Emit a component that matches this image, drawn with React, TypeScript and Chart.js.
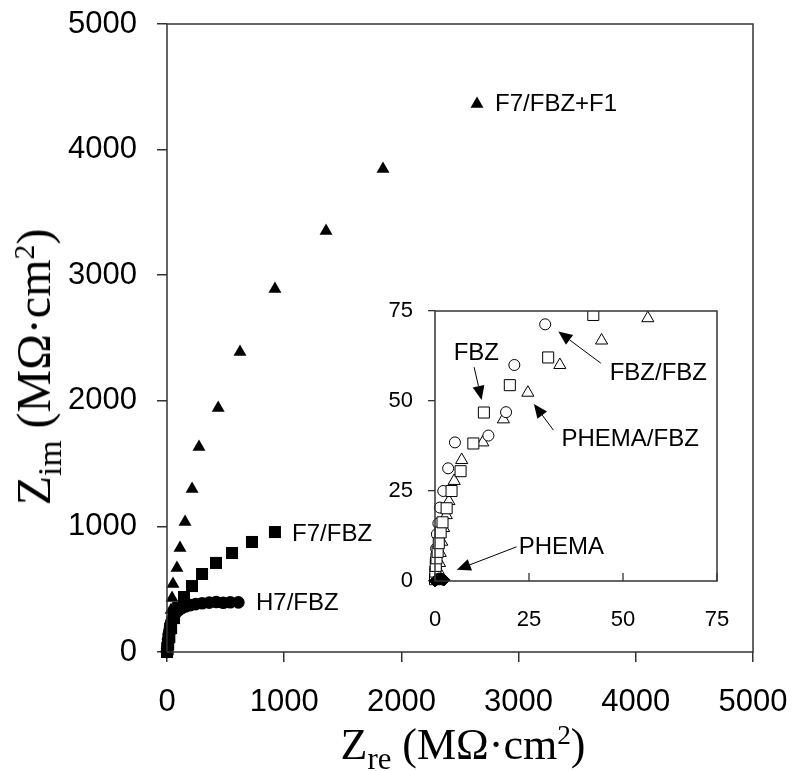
import React, { useEffect, useRef } from 'react';
import { Chart, registerables } from 'chart.js';

Chart.register(...registerables);

const SANS = '"Liberation Sans", Arial, Helvetica, sans-serif';
const SERIF = '"Liberation Serif", "Times New Roman", Times, serif';
const AXIS_COLOR = '#333333';

// ---------- Main chart data (Zre, Zim in MΩ·cm²) ----------
const MAIN_X_TICKS = [0, 1000, 2000, 3000, 4000, 5000];
const MAIN_Y_TICKS = [0, 1000, 2000, 3000, 4000, 5000];

const F7FBZF1_X = [2, 7, 13, 20, 28, 35, 43, 51, 85, 111, 154, 214, 273, 437, 623, 921, 1357, 1843, 2645];
const F7FBZF1_Y = [10, 45, 100, 170, 250, 334, 430, 541, 669, 828, 1035, 1298, 1633, 1942, 2388, 2890, 3352, 3845, 4363];

const F7FBZ_X = [0, 4, 10, 20, 35, 60, 95, 145, 213, 299, 418, 555, 725, 921];
const F7FBZ_Y = [0, 20, 60, 120, 190, 270, 350, 438, 525, 621, 709, 788, 876, 955];

const H7FBZ_X = [0, 2, 5, 9, 14, 20, 27, 35, 45, 58, 75, 97, 125, 160, 200, 245, 300, 360, 420, 480, 540, 609];
const H7FBZ_Y = [0, 30, 65, 100, 135, 170, 205, 235, 262, 288, 312, 332, 350, 363, 373, 381, 388, 393, 398, 392, 396, 395];

// labels in data coordinates (left aligned, vertically centred)
const MAIN_LABEL_TEXT = ['F7/FBZ+F1', 'F7/FBZ', 'H7/FBZ'];
const MAIN_LABEL_X = [2799, 1067, 759];
const MAIN_LABEL_Y = [4363, 940, 390];

// ---------- Inset data ----------
const INSET_TICKS = [0, 25, 50, 75];

const FBZFBZ_X = [0, 0.1, 0.2, 0.3, 0.5, 0.9, 1.3, 2.2, 3.5, 5.3, 14.2, 18.9, 21.1, 29.3];
const FBZFBZ_Y = [1, 3, 6, 9, 13, 16, 20.4, 25, 31.3, 38.5, 40.4, 46.9, 60, 71.3];

const FBZ_X = [0, 0.1, 0.2, 0.4, 0.7, 1, 1.5, 2, 3.1, 4.4, 6.8, 10.2, 13, 19.9, 30.1, 42.1];
const FBZ_Y = [0.5, 2.6, 4.2, 6.3, 8.1, 10.5, 13.5, 16.3, 20.2, 25, 30.5, 38.2, 46.8, 54.4, 62.1, 73.9];

const PHEMAFBZ_X = [0.5, 0.8, 1.2, 1.4, 1.8, 2.3, 3, 3.7, 5.1, 7.1, 12.7, 18.2, 24.7, 33.2, 44.3, 56.6];
const PHEMAFBZ_Y = [1, 3, 5, 7.8, 10.9, 14.7, 18.3, 22.2, 27.8, 33.6, 38.5, 44.9, 52.3, 60, 66.8, 73];

const PHEMA_X = [0, 0.3, 0.6, 0.9, 1.2, 1.5, 1.8, 2.1, 2.4];
const PHEMA_Y = [0, 0.3, 0.5, 0.6, 0.6, 0.6, 0.5, 0.4, 0.3];

// inset labels (centre of text, data coords)
const INSET_LABEL_TEXT = ['FBZ', 'FBZ/FBZ', 'PHEMA/FBZ', 'PHEMA'];
const INSET_LABEL_X = [11.0, 59.4, 51.9, 33.6];
const INSET_LABEL_Y = [63.3, 57.7, 39.4, 9.25];

// inset arrows: start -> tip (data coords)
const ARROW_X1 = [10.4, 44.1, 31.5, 21.7];
const ARROW_Y1 = [59.4, 60.5, 41.9, 9.5];
const ARROW_X2 = [12.4, 32.8, 26.3, 5.8];
const ARROW_Y2 = [50.3, 69.3, 49.2, 3.1];

const pts = (xs: number[], ys: number[]) => xs.map((x, i) => ({ x, y: ys[i] }));
const plain = (v: any) => String(v);

function boxPlugin(innerXTicks: number) {
  return {
    id: 'boxFrame',
    beforeDraw(chart: any) {
      const { ctx, chartArea: a } = chart;
      ctx.save();
      ctx.fillStyle = '#ffffff';
      ctx.fillRect(a.left, a.top, a.right - a.left, a.bottom - a.top);
      ctx.restore();
    },
    afterDraw(chart: any) {
      const { ctx, chartArea: a } = chart;
      ctx.save();
      ctx.strokeStyle = AXIS_COLOR;
      ctx.lineWidth = 1.5;
      ctx.strokeRect(a.left, a.top, a.right - a.left, a.bottom - a.top);
      if (innerXTicks > 0) {
        const xs = chart.scales.x;
        ctx.lineWidth = 1.3;
        ctx.beginPath();
        xs.ticks.forEach((t: any) => {
          const px = xs.getPixelForValue(t.value);
          ctx.moveTo(px, a.bottom);
          ctx.lineTo(px, a.bottom - innerXTicks);
        });
        ctx.stroke();
      }
      ctx.restore();
    },
  };
}

const mainLabelPlugin = {
  id: 'mainLabels',
  afterDatasetsDraw(chart: any) {
    const { ctx } = chart;
    const xs = chart.scales.x;
    const ys = chart.scales.y;
    ctx.save();
    ctx.fillStyle = '#000';
    ctx.font = `24px ${SANS}`;
    ctx.textAlign = 'left';
    ctx.textBaseline = 'middle';
    MAIN_LABEL_TEXT.forEach((t, i) => {
      ctx.fillText(t, xs.getPixelForValue(MAIN_LABEL_X[i]), ys.getPixelForValue(MAIN_LABEL_Y[i]));
    });
    ctx.restore();
  },
};

const insetLabelPlugin = {
  id: 'insetLabels',
  afterDatasetsDraw(chart: any) {
    const { ctx } = chart;
    const xs = chart.scales.x;
    const ys = chart.scales.y;
    ctx.save();
    ctx.fillStyle = '#000';
    ctx.strokeStyle = '#000';
    ctx.font = `24px ${SANS}`;
    ctx.textAlign = 'center';
    ctx.textBaseline = 'middle';
    INSET_LABEL_TEXT.forEach((t, i) => {
      ctx.fillText(t, xs.getPixelForValue(INSET_LABEL_X[i]), ys.getPixelForValue(INSET_LABEL_Y[i]));
    });
    const headLen = 14;
    const headHalf = 6;
    ctx.lineWidth = 1;
    ARROW_X1.forEach((_, i) => {
      const x1 = xs.getPixelForValue(ARROW_X1[i]);
      const y1 = ys.getPixelForValue(ARROW_Y1[i]);
      const x2 = xs.getPixelForValue(ARROW_X2[i]);
      const y2 = ys.getPixelForValue(ARROW_Y2[i]);
      const ang = Math.atan2(y2 - y1, x2 - x1);
      const bx = x2 - Math.cos(ang) * headLen;
      const by = y2 - Math.sin(ang) * headLen;
      ctx.beginPath();
      ctx.moveTo(x1, y1);
      ctx.lineTo(bx, by);
      ctx.stroke();
      ctx.beginPath();
      ctx.moveTo(x2, y2);
      ctx.lineTo(bx + Math.sin(ang) * headHalf, by - Math.cos(ang) * headHalf);
      ctx.lineTo(bx - Math.sin(ang) * headHalf, by + Math.cos(ang) * headHalf);
      ctx.closePath();
      ctx.fill();
    });
    ctx.restore();
  },
};

export default function App() {
  const mainRef = useRef<HTMLCanvasElement>(null);
  const insetRef = useRef<HTMLCanvasElement>(null);

  useEffect(() => {
    const main = new Chart(mainRef.current as HTMLCanvasElement, {
      type: 'scatter',
      data: {
        datasets: [
          {
            label: 'H7/FBZ',
            data: pts(H7FBZ_X, H7FBZ_Y),
            pointStyle: 'circle',
            pointRadius: 6.3,
            backgroundColor: '#000',
            borderColor: '#000',
            borderWidth: 0,
            clip: false,
          },
          {
            label: 'F7/FBZ',
            data: pts(F7FBZ_X, F7FBZ_Y),
            pointStyle: 'rect',
            pointRadius: 8.5,
            backgroundColor: '#000',
            borderColor: '#000',
            borderWidth: 0,
            clip: false,
          },
          {
            label: 'F7/FBZ+F1',
            data: pts(F7FBZF1_X, F7FBZF1_Y),
            pointStyle: 'triangle',
            pointRadius: 7.5,
            backgroundColor: '#000',
            borderColor: '#000',
            borderWidth: 0,
            clip: false,
          },
        ],
      } as any,
      options: {
        animation: false,
        responsive: false,
        maintainAspectRatio: false,
        layout: { padding: { left: 0, right: 40, top: 24, bottom: 0 } },
        plugins: { legend: { display: false }, tooltip: { enabled: false } },
        scales: {
          x: {
            type: 'linear',
            min: MAIN_X_TICKS[0],
            max: MAIN_X_TICKS[MAIN_X_TICKS.length - 1],
            afterBuildTicks: (s: any) => { s.ticks = MAIN_X_TICKS.map((v) => ({ value: v })); },
            ticks: { color: '#000', font: { family: SANS, size: 31 }, padding: 22, maxRotation: 0, callback: plain },
            grid: { drawOnChartArea: false, drawTicks: true, tickLength: 10, color: AXIS_COLOR, lineWidth: 1.5 },
            border: { display: false },
            afterFit: (s: any) => { s.height = 119; s.paddingLeft = 0; s.paddingRight = 0; },
          },
          y: {
            type: 'linear',
            min: MAIN_Y_TICKS[0],
            max: MAIN_Y_TICKS[MAIN_Y_TICKS.length - 1],
            afterBuildTicks: (s: any) => { s.ticks = MAIN_Y_TICKS.map((v) => ({ value: v })); },
            ticks: { color: '#000', font: { family: SANS, size: 31 }, padding: 20, callback: plain },
            grid: { drawOnChartArea: false, drawTicks: true, tickLength: 10, color: AXIS_COLOR, lineWidth: 1.5 },
            border: { display: false },
            afterFit: (s: any) => { s.width = 167; s.paddingTop = 0; s.paddingBottom = 0; },
          },
        },
      } as any,
      plugins: [boxPlugin(0), mainLabelPlugin],
    });

    const inset = new Chart(insetRef.current as HTMLCanvasElement, {
      type: 'scatter',
      data: {
        datasets: [
          {
            label: 'PHEMA',
            data: pts(PHEMA_X, PHEMA_Y),
            pointStyle: 'rectRot',
            pointRadius: 6,
            backgroundColor: '#000',
            borderColor: '#000',
            borderWidth: 1,
            clip: false,
          },
          {
            label: 'FBZ',
            data: pts(FBZ_X, FBZ_Y),
            pointStyle: 'rect',
            pointRadius: 7.8,
            backgroundColor: '#fff',
            borderColor: '#000',
            borderWidth: 1,
            clip: { left: false, bottom: false, right: false, top: 0 },
          },
          {
            label: 'FBZ/FBZ',
            data: pts(FBZFBZ_X, FBZFBZ_Y),
            pointStyle: 'circle',
            pointRadius: 5.5,
            backgroundColor: '#fff',
            borderColor: '#000',
            borderWidth: 1,
            clip: false,
          },
          {
            label: 'PHEMA/FBZ',
            data: pts(PHEMAFBZ_X, PHEMAFBZ_Y),
            pointStyle: 'triangle',
            pointRadius: 7,
            backgroundColor: '#fff',
            borderColor: '#000',
            borderWidth: 1,
            clip: false,
          },
        ],
      } as any,
      options: {
        animation: false,
        responsive: false,
        maintainAspectRatio: false,
        layout: { padding: { left: 0, right: 23, top: 21, bottom: 0 } },
        plugins: { legend: { display: false }, tooltip: { enabled: false } },
        scales: {
          x: {
            type: 'linear',
            min: INSET_TICKS[0],
            max: INSET_TICKS[INSET_TICKS.length - 1],
            afterBuildTicks: (s: any) => { s.ticks = INSET_TICKS.map((v) => ({ value: v })); },
            ticks: { color: '#000', font: { family: SANS, size: 22 }, padding: 26, maxRotation: 0, callback: plain },
            grid: { drawOnChartArea: false, drawTicks: false, color: AXIS_COLOR, lineWidth: 1.3 },
            border: { display: false },
            afterFit: (s: any) => { s.height = 69; s.paddingLeft = 0; s.paddingRight = 0; },
          },
          y: {
            type: 'linear',
            min: INSET_TICKS[0],
            max: INSET_TICKS[INSET_TICKS.length - 1],
            afterBuildTicks: (s: any) => { s.ticks = INSET_TICKS.map((v) => ({ value: v })); },
            ticks: { color: '#000', font: { family: SANS, size: 22 }, padding: 15, callback: plain },
            grid: { drawOnChartArea: false, drawTicks: true, tickLength: 7, color: AXIS_COLOR, lineWidth: 1.3 },
            border: { display: false },
            afterFit: (s: any) => { s.width = 75; s.paddingTop = 0; s.paddingBottom = 0; },
          },
        },
      } as any,
      plugins: [boxPlugin(8), insetLabelPlugin],
    });

    return () => {
      main.destroy();
      inset.destroy();
    };
  }, []);

  const subStyle: React.CSSProperties = { fontSize: '0.7em', position: 'relative', top: '0.32em' };
  const supStyle: React.CSSProperties = { fontSize: '0.62em', position: 'relative', top: '-0.55em' };

  return (
    <div style={{ position: 'absolute', left: 0, top: 0, width: 793, height: 771, background: '#fff', overflow: 'hidden' }}>
      <canvas ref={mainRef} width={793} height={771} style={{ position: 'absolute', left: 0, top: 0, width: 793, height: 771 }} />
      <canvas ref={insetRef} width={380} height={360} style={{ position: 'absolute', left: 360, top: 290, width: 380, height: 360 }} />
      <div
        style={{
          position: 'absolute',
          left: 463,
          top: 723,
          transform: 'translateX(-50%)',
          fontFamily: SERIF,
          fontSize: 44,
          lineHeight: 1,
          whiteSpace: 'nowrap',
          color: '#000',
        }}
      >
        Z<span style={subStyle}>re</span> (MΩ·cm<span style={supStyle}>2</span>)
      </div>
      <div
        style={{
          position: 'absolute',
          left: 34,
          top: 367,
          transform: 'translate(-50%, -50%) rotate(-90deg)',
          fontFamily: SERIF,
          fontSize: 48,
          lineHeight: 1,
          whiteSpace: 'nowrap',
          color: '#000',
        }}
      >
        Z<span style={subStyle}>im</span> (MΩ·cm<span style={supStyle}>2</span>)
      </div>
    </div>
  );
}
